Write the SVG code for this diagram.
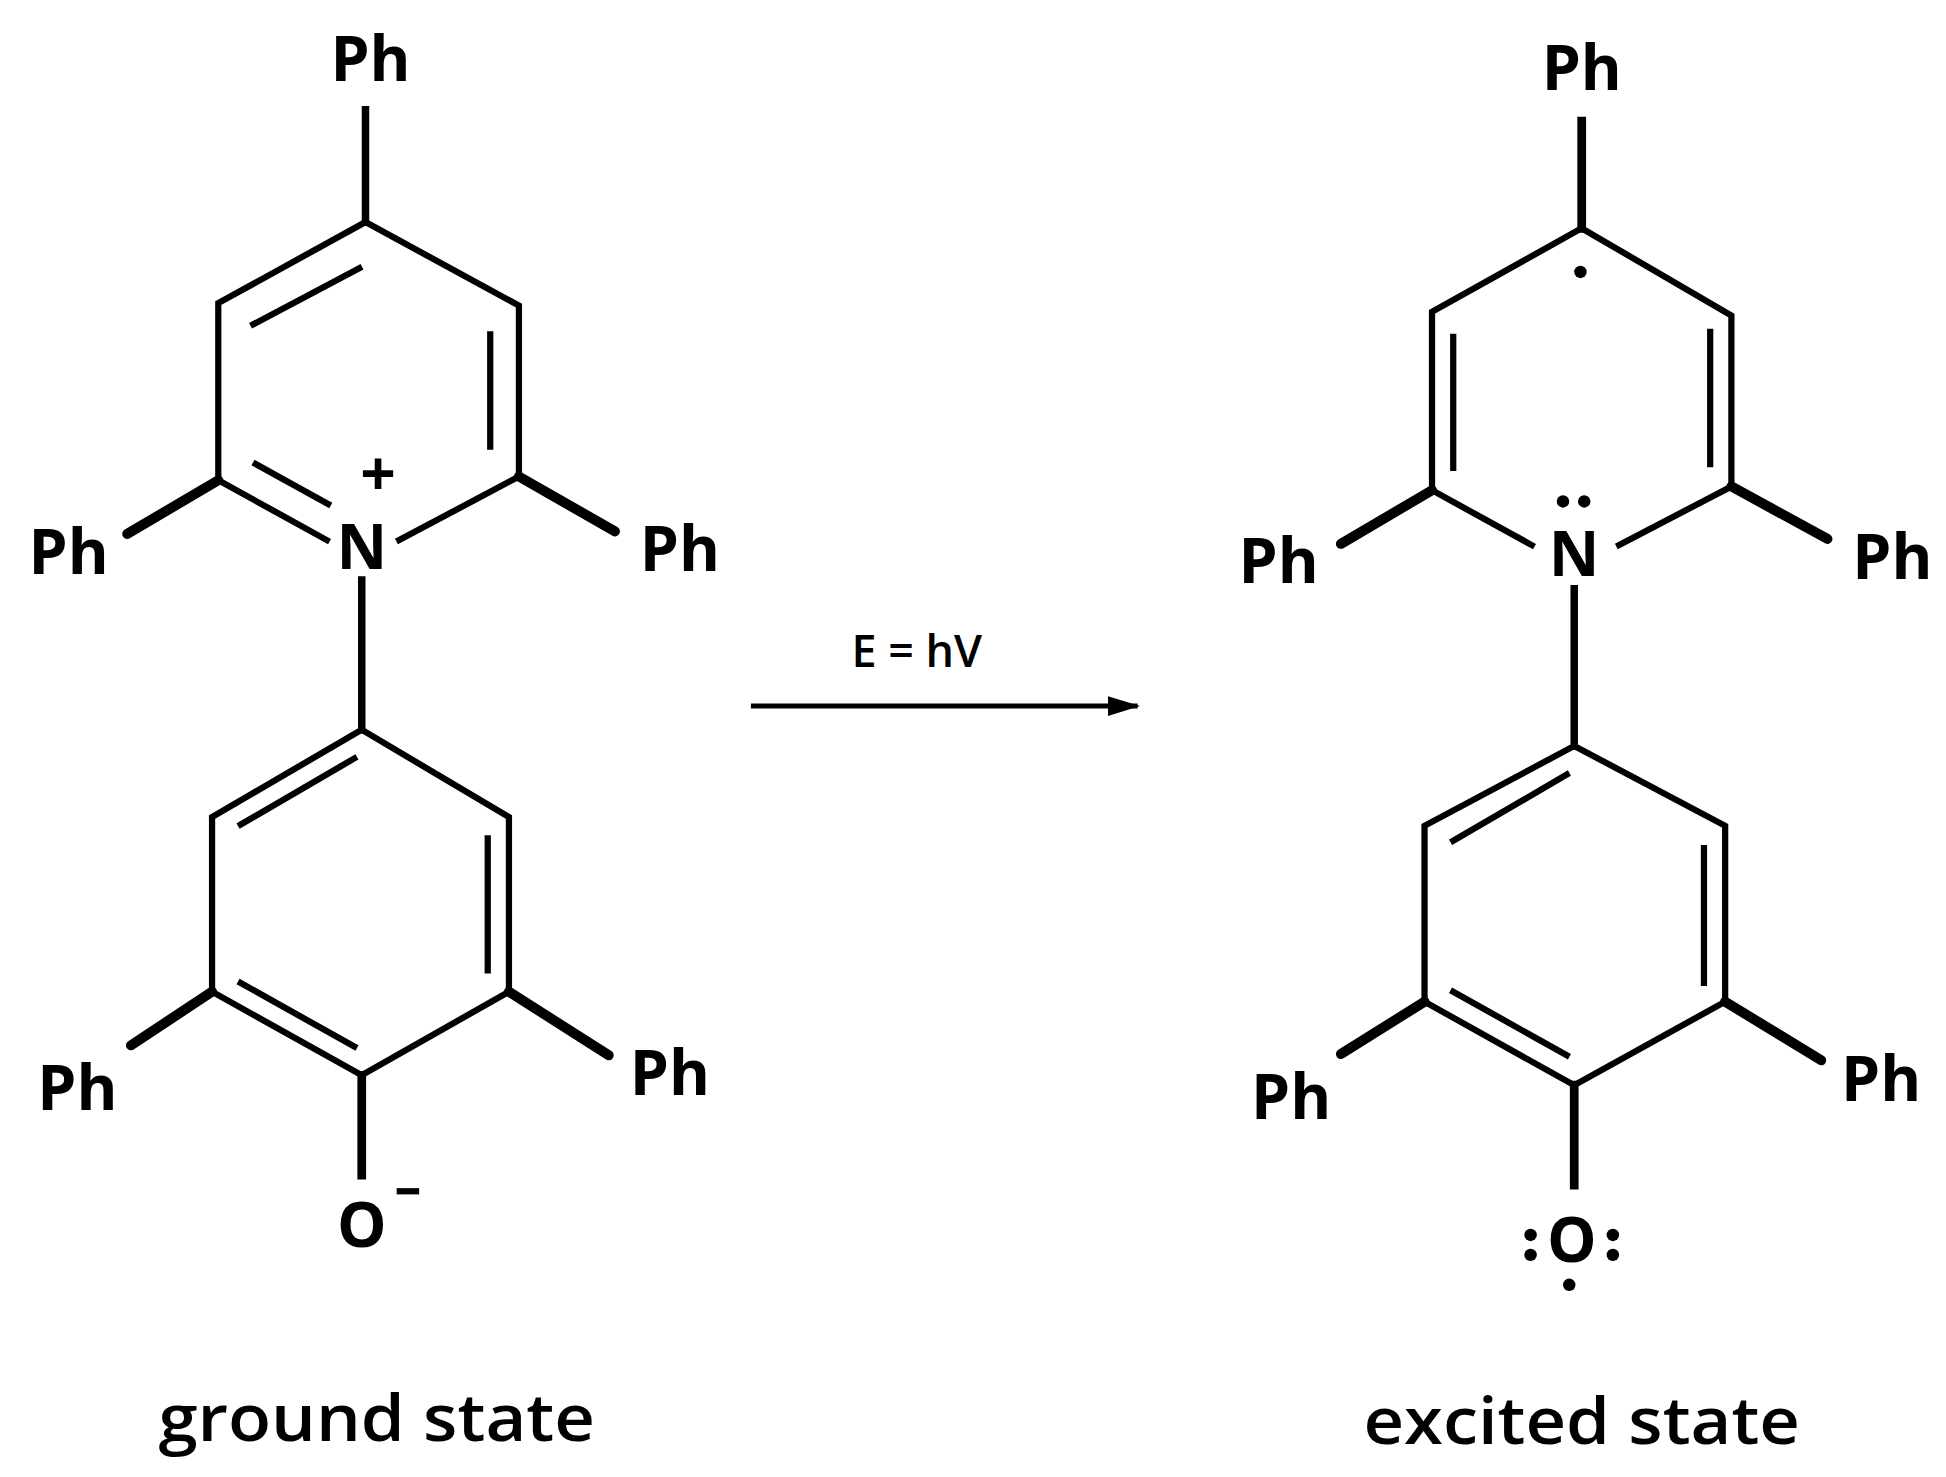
<svg xmlns="http://www.w3.org/2000/svg" width="1946" height="1477" viewBox="0 0 1946 1477">
<style>
.b{stroke:#000;stroke-width:5;fill:none;stroke-linecap:square}
.w{stroke:#000;stroke-width:8;fill:none;stroke-linecap:round}
.t{font-family:"Open Sans","Liberation Sans",sans-serif;font-weight:bold;font-size:50px;fill:#000;text-anchor:middle}
.c{font-family:"Open Sans","Liberation Sans",sans-serif;font-weight:600;fill:#000;text-anchor:middle}
</style>
<defs><marker id="ah" markerWidth="26" markerHeight="16" refX="24" refY="8" orient="auto" markerUnits="userSpaceOnUse"><path d="M0,0L26,8L0,16z"/></marker></defs>
<rect width="1946" height="1477" fill="#fff"/>
<g transform="scale(1.2474)">
<g id="ground">
<path class="b" d="M293,88V178L175,243V385L262,433M320,433L416,382V245L293,178"/>
<line class="b" x1="293" y1="88" x2="293" y2="178" style="stroke-width:6"/>
<path class="b" d="M203,260L288,215M393,268V358M205,372L263,404"/>
<line class="w" x1="175" y1="385" x2="102" y2="428"/>
<line class="w" x1="416" y1="382" x2="493" y2="426"/>
<path class="b" d="M290,465V585L170,655V795L290,862L408,795V655L290,585"/>
<line class="b" x1="290" y1="465" x2="290" y2="585" style="stroke-width:6"/>
<line class="b" x1="290" y1="862" x2="290" y2="942" style="stroke-width:7"/>
<path class="b" d="M284,608L193,661M391,672V778M193,788L284,839"/>
<line class="w" x1="170" y1="795" x2="105" y2="838"/>
<line class="w" x1="408" y1="795" x2="488" y2="846"/>
<text class="t" x="297" y="65">Ph</text>
<text class="t" x="55" y="460">Ph</text>
<text class="t" x="545" y="458">Ph</text>
<text class="t" x="290" y="456">N</text>
<text class="t" x="303" y="398">+</text>
<text class="t" x="62" y="890">Ph</text>
<text class="t" x="537" y="878">Ph</text>
<text class="t" x="290" y="1000">O</text>
<line x1="318" y1="955" x2="336" y2="955" stroke="#000" stroke-width="5"/>
<text class="c" x="302" y="1155" font-size="52" textLength="350" lengthAdjust="spacingAndGlyphs">ground state</text>
</g>
<g id="connectors">
<line x1="602" y1="566" x2="912" y2="566" stroke="#000" stroke-width="4" marker-end="url(#ah)"/>
<text class="c" x="735" y="535" font-size="36">E = hV</text>
</g>
<g id="excited">
<path class="b" d="M1268,97V183L1148,250V393L1228,437M1298,437L1388,390V253L1268,183"/>
<line class="b" x1="1268" y1="97" x2="1268" y2="183" style="stroke-width:7"/>
<path class="b" d="M1165,270V375M1371,266V372"/>
<circle cx="1267" cy="218" r="5"/>
<circle cx="1253" cy="402" r="5"/><circle cx="1270" cy="402" r="5"/>
<line class="w" x1="1148" y1="393" x2="1075" y2="436"/>
<line class="w" x1="1388" y1="390" x2="1465" y2="432"/>
<path class="b" d="M1262,472V598L1142,662V803L1262,870L1383,803V662L1262,598"/>
<line class="b" x1="1262" y1="472" x2="1262" y2="598" style="stroke-width:6"/>
<line class="b" x1="1262" y1="870" x2="1262" y2="950" style="stroke-width:7"/>
<path class="b" d="M1256,621L1165,674M1366,680V788M1165,795L1256,846"/>
<line class="w" x1="1142" y1="803" x2="1075" y2="845"/>
<line class="w" x1="1383" y1="803" x2="1460" y2="850"/>
<text class="t" x="1268" y="72">Ph</text>
<text class="t" x="1025" y="467">Ph</text>
<text class="t" x="1517" y="464">Ph</text>
<text class="t" x="1262" y="462">N</text>
<text class="t" x="1035" y="897">Ph</text>
<text class="t" x="1508" y="883">Ph</text>
<text class="t" x="1260" y="1012">O</text>
<circle cx="1227" cy="990" r="5"/><circle cx="1227" cy="1006" r="5"/>
<circle cx="1293" cy="990" r="5"/><circle cx="1293" cy="1006" r="5"/>
<circle cx="1258" cy="1030" r="5"/>
<text class="c" x="1268" y="1158" font-size="52" textLength="350" lengthAdjust="spacingAndGlyphs">excited state</text>
</g>
</g>
</svg>
